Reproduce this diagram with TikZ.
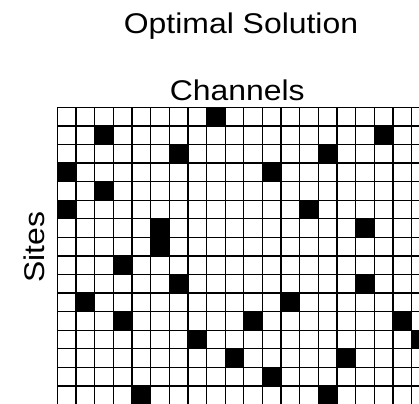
\documentclass[tikz,border=0pt]{standalone}
\usepackage{fontspec}
\setmainfont{Liberation Sans}
\usepackage{graphicx}
\tikzset{
  titletext/.style={font=\fontsize{28.5}{30}\selectfont, inner sep=0pt, anchor=base},
  gridline/.style={line width=1.3pt, black},
  cellfill/.style={fill=black}
}
% grid geometry (pt): origin, column pitch, row pitch
\def\gx{57.3}
\def\gy{107.3}
\def\dx{18.65}
\def\dy{18.58}
\begin{document}
\begin{tikzpicture}[x=1pt,y=-1pt]
  \useasboundingbox (0,0) rectangle (419,403);
  \fill[white] (0,0) rectangle (419,403);

  % titles
  \node[titletext] (heading) at (241,34) {\scalebox{1.12}[1]{Optimal Solution}};
  \node[titletext] (channels) at (237.2,100.3) {\scalebox{1.12}[1]{Channels}};
  \node[titletext, rotate=90] (sites) at (44,247.5) {\scalebox{1.12}[1]{Sites}};

  \begin{scope}
    \clip (0,0) rectangle (419,403);
    % assigned channels: row/column pairs
    \foreach \r/\c in {0/8, 1/2, 1/17, 2/6, 2/14, 3/0, 3/11, 4/2, 5/0, 5/13,
                       6/5, 6/16, 7/5, 8/3, 9/6, 9/16, 10/1, 10/12,
                       11/3, 11/10, 11/18, 12/7, 12/19, 13/9, 13/15,
                       14/11, 15/4, 15/14}
      \fill[cellfill] ({\gx+\c*\dx},{\gy+\r*\dy}) rectangle ++(\dx,\dy);
    % grid lines
    \foreach \c in {0,...,20}
      \draw[gridline] ({\gx+\c*\dx},\gy) -- ({\gx+\c*\dx},{\gy+16*\dy});
    \foreach \r in {0,...,16}
      \draw[gridline] (\gx,{\gy+\r*\dy}) -- ({\gx+20*\dx},{\gy+\r*\dy});
  \end{scope}
\end{tikzpicture}
\end{document}
